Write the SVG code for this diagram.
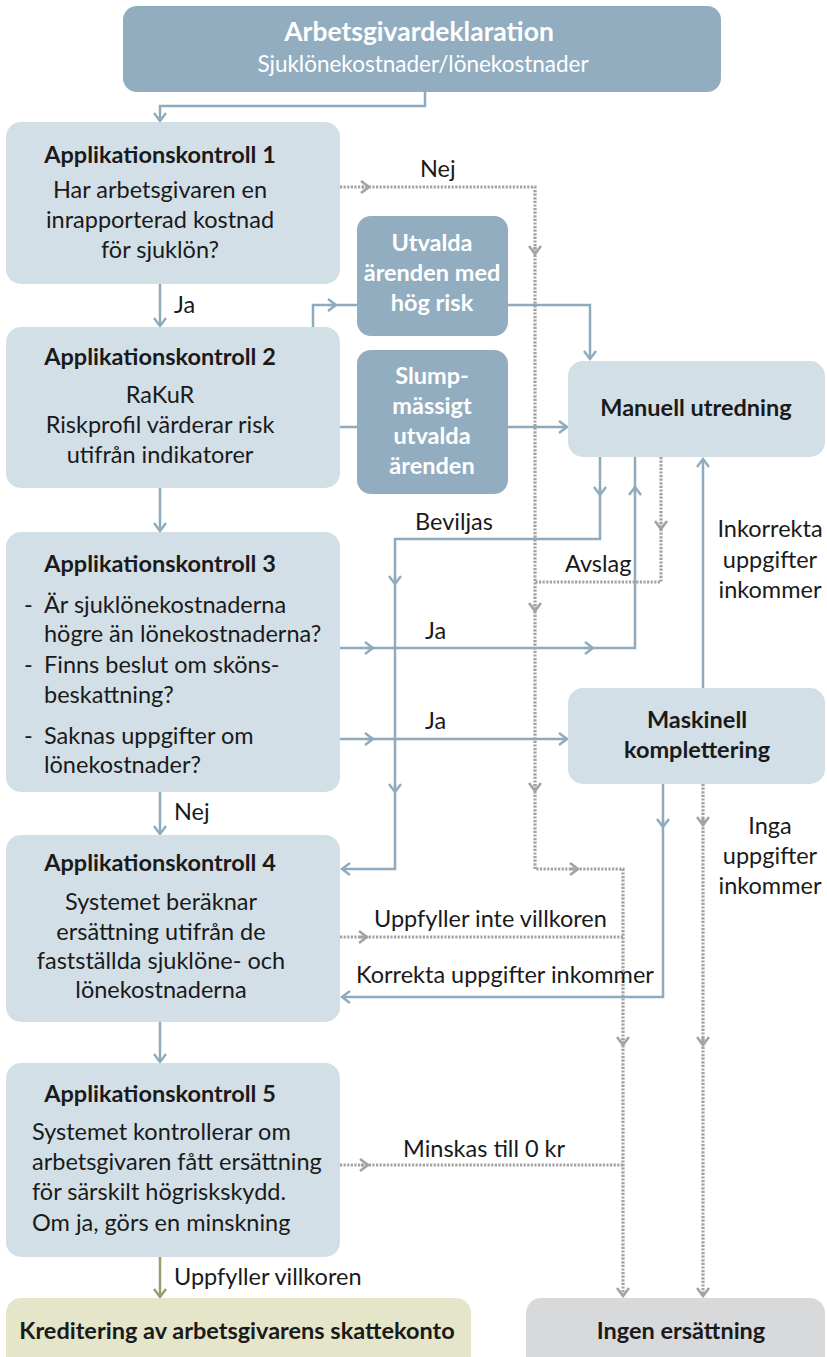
<svg xmlns="http://www.w3.org/2000/svg" width="827" height="1357" viewBox="0 0 827 1357">
<style>
.t{font-family:Lato,"Liberation Sans",sans-serif;font-size:23.5px;fill:#1a1a1a}
.b{font-weight:bold}
.w{fill:#ffffff}
.c{text-anchor:middle}
.dark{fill:#92ADBF}
.light{fill:#D3DFE7}
.s{fill:none;stroke:#8EABBE;stroke-width:2.5}
.d{fill:none;stroke:#A3A3A3;stroke-width:3.2;stroke-dasharray:2.2 1.4}
.o{fill:none;stroke:#9A9E6E;stroke-width:2.5}
</style>
<defs>
<marker id="mb" markerUnits="userSpaceOnUse" markerWidth="14" markerHeight="14" refX="10" refY="7" orient="auto" viewBox="0 0 14 14"><path d="M2,1 L10,7 L2,13" fill="none" stroke="#8EABBE" stroke-width="2.4"/></marker>
<marker id="mg" markerUnits="userSpaceOnUse" markerWidth="14" markerHeight="14" refX="10" refY="7" orient="auto" viewBox="0 0 14 14"><path d="M2,1 L10,7 L2,13" fill="none" stroke="#A3A3A3" stroke-width="2.6"/></marker>
<marker id="mo" markerUnits="userSpaceOnUse" markerWidth="14" markerHeight="14" refX="10" refY="7" orient="auto" viewBox="0 0 14 14"><path d="M2,1 L10,7 L2,13" fill="none" stroke="#9A9E6E" stroke-width="2.4"/></marker>
</defs>

<g id="connectors">
<!-- solid -->
<path class="s" d="M425,92 V106 H160 V121" marker-end="url(#mb)"/>
<path class="s" d="M160,284 V326" marker-end="url(#mb)"/>
<path class="s" d="M313,327 V305 H357"/>
<path class="s" d="M330,305 H336" marker-end="url(#mb)"/>
<path class="s" d="M340,427 H357"/>
<path class="s" d="M508,427 H567" marker-end="url(#mb)"/>
<path class="s" d="M508,305 H590 V359" marker-end="url(#mb)"/>
<path class="s" d="M160,488 V531" marker-end="url(#mb)"/>
<path class="s" d="M600,457 V539 H395 V869 H342" marker-end="url(#mb)"/>
<path class="s" d="M600,488 V495" marker-end="url(#mb)"/>
<path class="s" d="M395,577 V584" marker-end="url(#mb)"/>
<path class="s" d="M395,785 V792" marker-end="url(#mb)"/>
<path class="s" d="M340,648 H635 V457"/>
<path class="s" d="M366,648 H373" marker-end="url(#mb)"/>
<path class="s" d="M586,648 H593" marker-end="url(#mb)"/>
<path class="s" d="M635,494 V487" marker-end="url(#mb)"/>
<path class="s" d="M340,739 H567" marker-end="url(#mb)"/>
<path class="s" d="M366,739 H373" marker-end="url(#mb)"/>
<path class="s" d="M160,792 V834" marker-end="url(#mb)"/>
<path class="s" d="M663,784 V997 H342" marker-end="url(#mb)"/>
<path class="s" d="M663,820 V827" marker-end="url(#mb)"/>
<path class="s" d="M703,688 V459" marker-end="url(#mb)"/>
<path class="s" d="M160,1022 V1062" marker-end="url(#mb)"/>
<path class="o" d="M160,1257 V1297" marker-end="url(#mo)"/>
<!-- dotted -->
<path class="d" d="M340,187 H535 V869 H623 V1296" marker-end="url(#mg)"/>
<path class="d" d="M362,187 H369" marker-end="url(#mg)"/>
<path class="d" d="M535,247 V254" marker-end="url(#mg)"/>
<path class="d" d="M535,604 V611" marker-end="url(#mg)"/>
<path class="d" d="M535,784 V791" marker-end="url(#mg)"/>
<path class="d" d="M571,869 H578" marker-end="url(#mg)"/>
<path class="d" d="M623,1038 V1045" marker-end="url(#mg)"/>
<path class="d" d="M661,457 V582 H535"/>
<path class="d" d="M661,522 V529" marker-end="url(#mg)"/>
<path class="d" d="M340,937 H623"/>
<path class="d" d="M360,937 H367" marker-end="url(#mg)"/>
<path class="d" d="M703,784 V1296" marker-end="url(#mg)"/>
<path class="d" d="M703,818 V825" marker-end="url(#mg)"/>
<path class="d" d="M703,1038 V1045" marker-end="url(#mg)"/>
<path class="d" d="M340,1165 H623"/>
<path class="d" d="M361,1165 H368" marker-end="url(#mg)"/>
<!-- labels -->
<text class="t" x="174" y="313">Ja</text>
<text class="t" x="420" y="177">Nej</text>
<text class="t" x="415" y="530">Beviljas</text>
<text class="t" x="565" y="572">Avslag</text>
<text class="t" x="425" y="639">Ja</text>
<text class="t" x="425" y="729">Ja</text>
<text class="t c" x="770" y="537">Inkorrekta</text>
<text class="t c" x="770" y="568">uppgifter</text>
<text class="t c" x="770" y="598">inkommer</text>
<text class="t" x="174" y="820">Nej</text>
<text class="t c" x="770" y="834">Inga</text>
<text class="t c" x="770" y="864">uppgifter</text>
<text class="t c" x="770" y="894">inkommer</text>
<text class="t" x="374" y="927">Uppfyller inte villkoren</text>
<text class="t" x="356" y="983">Korrekta uppgifter inkommer</text>
<text class="t" x="403" y="1157">Minskas till 0 kr</text>
<text class="t" x="174" y="1285">Uppfyller villkoren</text>
</g>

<g id="header">
<rect class="dark" x="123" y="6" width="598" height="86" rx="14"/>
<text class="t b w c" x="419" y="41" style="font-size:26.5px">Arbetsgivardeklaration</text>
<text class="t w c" x="423" y="72" style="font-size:22.5px">Sjuklönekostnader/lönekostnader</text>
</g>

<g id="ak1">
<rect class="light" x="6" y="122" width="334" height="162" rx="15"/>
<text class="t b c" x="160" y="163">Applikationskontroll 1</text>
<text class="t c" x="160" y="198">Har arbetsgivaren en</text>
<text class="t c" x="160" y="228">inrapporterad kostnad</text>
<text class="t c" x="160" y="258">för sjuklön?</text>
</g>

<g id="ak2">
<rect class="light" x="6" y="327" width="334" height="161" rx="15"/>
<text class="t b c" x="160" y="365">Applikationskontroll 2</text>
<text class="t c" x="160" y="403">RaKuR</text>
<text class="t c" x="160" y="433">Riskprofil värderar risk</text>
<text class="t c" x="160" y="463">utifrån indikatorer</text>
</g>

<g id="utvalda">
<rect class="dark" x="357" y="216" width="151" height="120" rx="14"/>
<text class="t b w c" x="432" y="251">Utvalda</text>
<text class="t b w c" x="432" y="281">ärenden med</text>
<text class="t b w c" x="432" y="311">hög risk</text>
</g>

<g id="slump">
<rect class="dark" x="357" y="350" width="151" height="144" rx="14"/>
<text class="t b w c" x="432" y="384">Slump-</text>
<text class="t b w c" x="432" y="414">mässigt</text>
<text class="t b w c" x="432" y="444">utvalda</text>
<text class="t b w c" x="432" y="474">ärenden</text>
</g>

<g id="manuell">
<rect class="light" x="568" y="361" width="257" height="96" rx="15"/>
<text class="t b c" x="696" y="416">Manuell utredning</text>
</g>

<g id="ak3">
<rect class="light" x="6" y="532" width="334" height="260" rx="15"/>
<text class="t b c" x="160" y="572">Applikationskontroll 3</text>
<text class="t" x="24" y="613">-</text>
<text class="t" x="44" y="613">Är sjuklönekostnaderna</text>
<text class="t" x="44" y="642">högre än lönekostnaderna?</text>
<text class="t" x="24" y="673">-</text>
<text class="t" x="44" y="673">Finns beslut om sköns-</text>
<text class="t" x="44" y="703">beskattning?</text>
<text class="t" x="24" y="744">-</text>
<text class="t" x="44" y="744">Saknas uppgifter om</text>
<text class="t" x="44" y="773">lönekostnader?</text>
</g>

<g id="maskinell">
<rect class="light" x="568" y="688" width="257" height="96" rx="15"/>
<text class="t b c" x="697" y="728">Maskinell</text>
<text class="t b c" x="697" y="758">komplettering</text>
</g>

<g id="ak4">
<rect class="light" x="6" y="835" width="334" height="187" rx="15"/>
<text class="t b c" x="160" y="871">Applikationskontroll 4</text>
<text class="t c" x="161" y="910">Systemet beräknar</text>
<text class="t c" x="161" y="940">ersättning utifrån de</text>
<text class="t c" x="161" y="969">fastställda sjuklöne- och</text>
<text class="t c" x="161" y="998">lönekostnaderna</text>
</g>

<g id="ak5">
<rect class="light" x="6" y="1063" width="334" height="194" rx="15"/>
<text class="t b c" x="160" y="1102">Applikationskontroll 5</text>
<text class="t" x="32" y="1140">Systemet kontrollerar om</text>
<text class="t" x="32" y="1170">arbetsgivaren fått ersättning</text>
<text class="t" x="32" y="1200">för särskilt högriskskydd.</text>
<text class="t" x="32" y="1231">Om ja, görs en minskning</text>
</g>

<g id="kreditering">
<rect x="6" y="1298" width="465" height="80" rx="15" fill="#E4E5C9"/>
<text class="t b c" x="237" y="1339">Kreditering av arbetsgivarens skattekonto</text>
</g>

<g id="ingen">
<rect x="526" y="1298" width="299" height="80" rx="15" fill="#D8D9DB"/>
<text class="t b c" x="681" y="1339">Ingen ersättning</text>
</g>
</svg>
